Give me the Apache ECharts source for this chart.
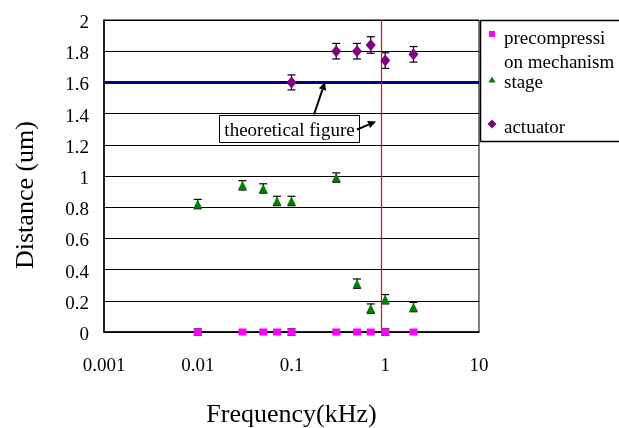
<!DOCTYPE html>
<html>
<head>
<meta charset="utf-8">
<script src="https://cdn.jsdelivr.net/npm/echarts@6/dist/echarts.min.js"></script>
<style>html,body{margin:0;padding:0;background:#fff;}#c{width:619px;height:428px;}</style>
</head>
<body>
<div id="c"></div>
<script>
// ---- data ----
var frequencies = [0.01, 0.03, 0.05, 0.07, 0.1, 0.3, 0.5, 0.7, 1, 2];
var precompValues = [0, 0, 0, 0, 0, 0, 0, 0, 0, 0];
var precompErrors = [0.02, 0, 0, 0, 0.02, 0, 0, 0, 0.02, 0];
var stageValues = [0.82, 0.94, 0.92, 0.84, 0.84, 0.99, 0.31, 0.15, 0.21, 0.16];
var stageErrors = [0.03, 0.03, 0.03, 0.03, 0.03, 0.03, 0.03, 0.03, 0.03, 0.03];
var actuatorFreq = [0.1, 0.3, 0.5, 0.7, 1, 2];
var actuatorValues = [1.6, 1.8, 1.8, 1.84, 1.74, 1.78];
var actuatorErrors = [0.048, 0.05, 0.05, 0.053, 0.05, 0.05];
var theoreticalValue = 1.6;
var resonanceFreq = 0.9;
var xTickLabels = ['0.001', '0.01', '0.1', '1', '10'];
var yTickLabels = ['0', '0.2', '0.4', '0.6', '0.8', '1', '1.2', '1.4', '1.6', '1.8', '2'];
var seriesNames = ['precompressi\non mechanism', 'stage', 'actuator'];

var FONT = 'Liberation Serif';

function pairs(xs, ys) { return xs.map(function (x, i) { return [x, ys[i]]; }); }
function errRows(xs, ys, es) { return xs.map(function (x, i) { return [x, ys[i] - es[i], ys[i] + es[i]]; }); }

function errorRender(params, api) {
  var x = api.value(0), lo = api.value(1), hi = api.value(2);
  if (hi - lo <= 0) return null;
  var pLo = api.coord([x, lo]);
  var pHi = api.coord([x, hi]);
  var w = 4;
  var st = { stroke: '#000', lineWidth: 1.2 };
  return {
    type: 'group',
    children: [
      { type: 'line', shape: { x1: pLo[0], y1: pLo[1], x2: pHi[0], y2: pHi[1] }, style: st },
      { type: 'line', shape: { x1: pHi[0] - w, y1: pHi[1], x2: pHi[0] + w, y2: pHi[1] }, style: st },
      { type: 'line', shape: { x1: pLo[0] - w, y1: pLo[1], x2: pLo[0] + w, y2: pLo[1] }, style: st }
    ]
  };
}

var chart = echarts.init(document.getElementById('c'), null, { renderer: 'canvas' });

// legend drawn as graphic (box partly outside the canvas like the reference)
var LX = 480, LY = 20;
var LF = '19px "' + FONT + '"';
var legendGraphic = {
  type: 'group', z: 100,
  children: [
    { type: 'rect', shape: { x: LX + 0.5, y: LY + 0.5, width: 200, height: 121 }, style: { fill: '#fff', stroke: '#000', lineWidth: 1.5 } },
    { type: 'rect', shape: { x: LX + 9, y: LY + 11, width: 6, height: 6 }, style: { fill: '#FF00FF' } },
    { type: 'text', x: LX + 24, y: LY + 19, style: { text: 'precompressi', font: LF, fill: '#000', verticalAlign: 'middle' } },
    { type: 'text', x: LX + 24, y: LY + 43, style: { text: 'on mechanism', font: LF, fill: '#000', verticalAlign: 'middle' } },
    { type: 'polygon', shape: { points: [[LX + 12, LY + 56.5], [LX + 15.5, LY + 62.5], [LX + 8.5, LY + 62.5]] }, style: { fill: '#008000' } },
    { type: 'text', x: LX + 24, y: LY + 63, style: { text: 'stage', font: LF, fill: '#000', verticalAlign: 'middle' } },
    { type: 'polygon', shape: { points: [[LX + 12, LY + 99.5], [LX + 16.5, LY + 104], [LX + 12, LY + 108.5], [LX + 7.5, LY + 104]] }, style: { fill: '#800080' } },
    { type: 'text', x: LX + 24, y: LY + 108, style: { text: 'actuator', font: LF, fill: '#000', verticalAlign: 'middle' } }
  ]
};

function arrow(x1, y1, x2, y2) {
  var dx = x2 - x1, dy = y2 - y1, L = Math.sqrt(dx * dx + dy * dy);
  var ux = dx / L, uy = dy / L, px = -uy, py = ux;
  var hl = 8, hw = 3.8;
  var bx = x2 - ux * hl, by = y2 - uy * hl;
  return [
    { type: 'line', shape: { x1: x1, y1: y1, x2: bx, y2: by }, style: { stroke: '#000', lineWidth: 2 } },
    { type: 'polygon', shape: { points: [[x2, y2], [bx + px * hw, by + py * hw], [bx - px * hw, by - py * hw]] }, style: { fill: '#000' } }
  ];
}

var annotation = {
  type: 'group', z: 90,
  children: [
    { type: 'rect', shape: { x: 219.5, y: 115.5, width: 140, height: 27 }, style: { fill: '#fff', stroke: '#000', lineWidth: 1 } },
    { type: 'text', x: 289.5, y: 131.5, style: { text: 'theoretical figure', font: LF, fill: '#000', align: 'center', verticalAlign: 'middle' } }
  ].concat(arrow(314, 114.5, 325, 82)).concat(arrow(357, 129.5, 376, 121.5))
};

var option = {
  animation: false,
  backgroundColor: '#fff',
  textStyle: { fontFamily: FONT },
  grid: { left: 104, right: 140, top: 20, bottom: 96, containLabel: false, outerBoundsMode: 'none', show: true, borderColor: '#000', borderWidth: 1, backgroundColor: 'transparent' },
  xAxis: {
    type: 'log', logBase: 10, min: 0.001, max: 10,
    name: 'Frequency(kHz)', nameLocation: 'middle', nameGap: 70,
    nameTextStyle: { fontSize: 26, color: '#000', fontFamily: FONT },
    axisLine: { show: true, onZero: false, lineStyle: { color: '#000', width: 1.5 } },
    axisTick: { show: false },
    splitLine: { show: false },
    minorTick: { show: false },
    axisLabel: {
      fontSize: 19, color: '#000', fontFamily: FONT, margin: 25,
      formatter: function (v, i) { return xTickLabels[i] !== undefined ? xTickLabels[i] : ''; }
    }
  },
  yAxis: {
    type: 'value', min: 0, max: 2, interval: 0.2,
    name: 'Distance (um)', nameLocation: 'middle', nameGap: 65, nameRotate: 90,
    nameTextStyle: { fontSize: 26, color: '#000', fontFamily: FONT, padding: [0, 38, 0, 0] },
    axisLine: { show: true, lineStyle: { color: '#000', width: 1.5 } },
    axisTick: { show: false },
    splitLine: { show: true, lineStyle: { color: '#000', width: 1 } },
    axisLabel: {
      color: '#000', fontFamily: FONT, fontSize: 19, margin: 15,
      rich: { t: { fontSize: 19, fontFamily: FONT, color: '#000', padding: [6, 0, 0, 0] } },
      formatter: function (v, i) { return yTickLabels[i] !== undefined ? '{t|' + yTickLabels[i] + '}' : ''; }
    }
  },
  graphic: [annotation, legendGraphic],
  series: [
    {
      name: 'lines', type: 'scatter', data: [], silent: true,
      markLine: {
        silent: true, symbol: 'none', label: { show: false }, animation: false,
        data: [
          { yAxis: theoreticalValue, lineStyle: { color: '#000080', width: 3, type: 'solid' } },
          { xAxis: resonanceFreq, lineStyle: { color: '#FF0000', width: 1.2, type: 'solid' } }
        ]
      },
      z: 3
    },
    { name: 'errPre', type: 'custom', renderItem: errorRender, data: errRows(frequencies, precompValues, precompErrors), encode: { x: 0, y: [1, 2] }, z: 4, clip: false },
    { name: 'errStage', type: 'custom', renderItem: errorRender, data: errRows(frequencies, stageValues, stageErrors), encode: { x: 0, y: [1, 2] }, z: 4 },
    { name: 'errAct', type: 'custom', renderItem: errorRender, data: errRows(actuatorFreq, actuatorValues, actuatorErrors), encode: { x: 0, y: [1, 2] }, z: 4 },
    { name: seriesNames[0], type: 'scatter', symbol: 'rect', symbolSize: [8, 7], itemStyle: { color: '#FF00FF', opacity: 1 }, data: pairs(frequencies, precompValues), z: 5, clip: false },
    { name: seriesNames[1], type: 'scatter', symbol: 'triangle', symbolSize: [9, 9], itemStyle: { color: '#008000', opacity: 1 }, data: pairs(frequencies, stageValues), z: 5 },
    { name: seriesNames[2], type: 'scatter', symbol: 'diamond', symbolSize: [10, 12], itemStyle: { color: '#800080', opacity: 1 }, data: pairs(actuatorFreq, actuatorValues), z: 5 }
  ]
};
chart.setOption(option);
</script>
</body>
</html>
